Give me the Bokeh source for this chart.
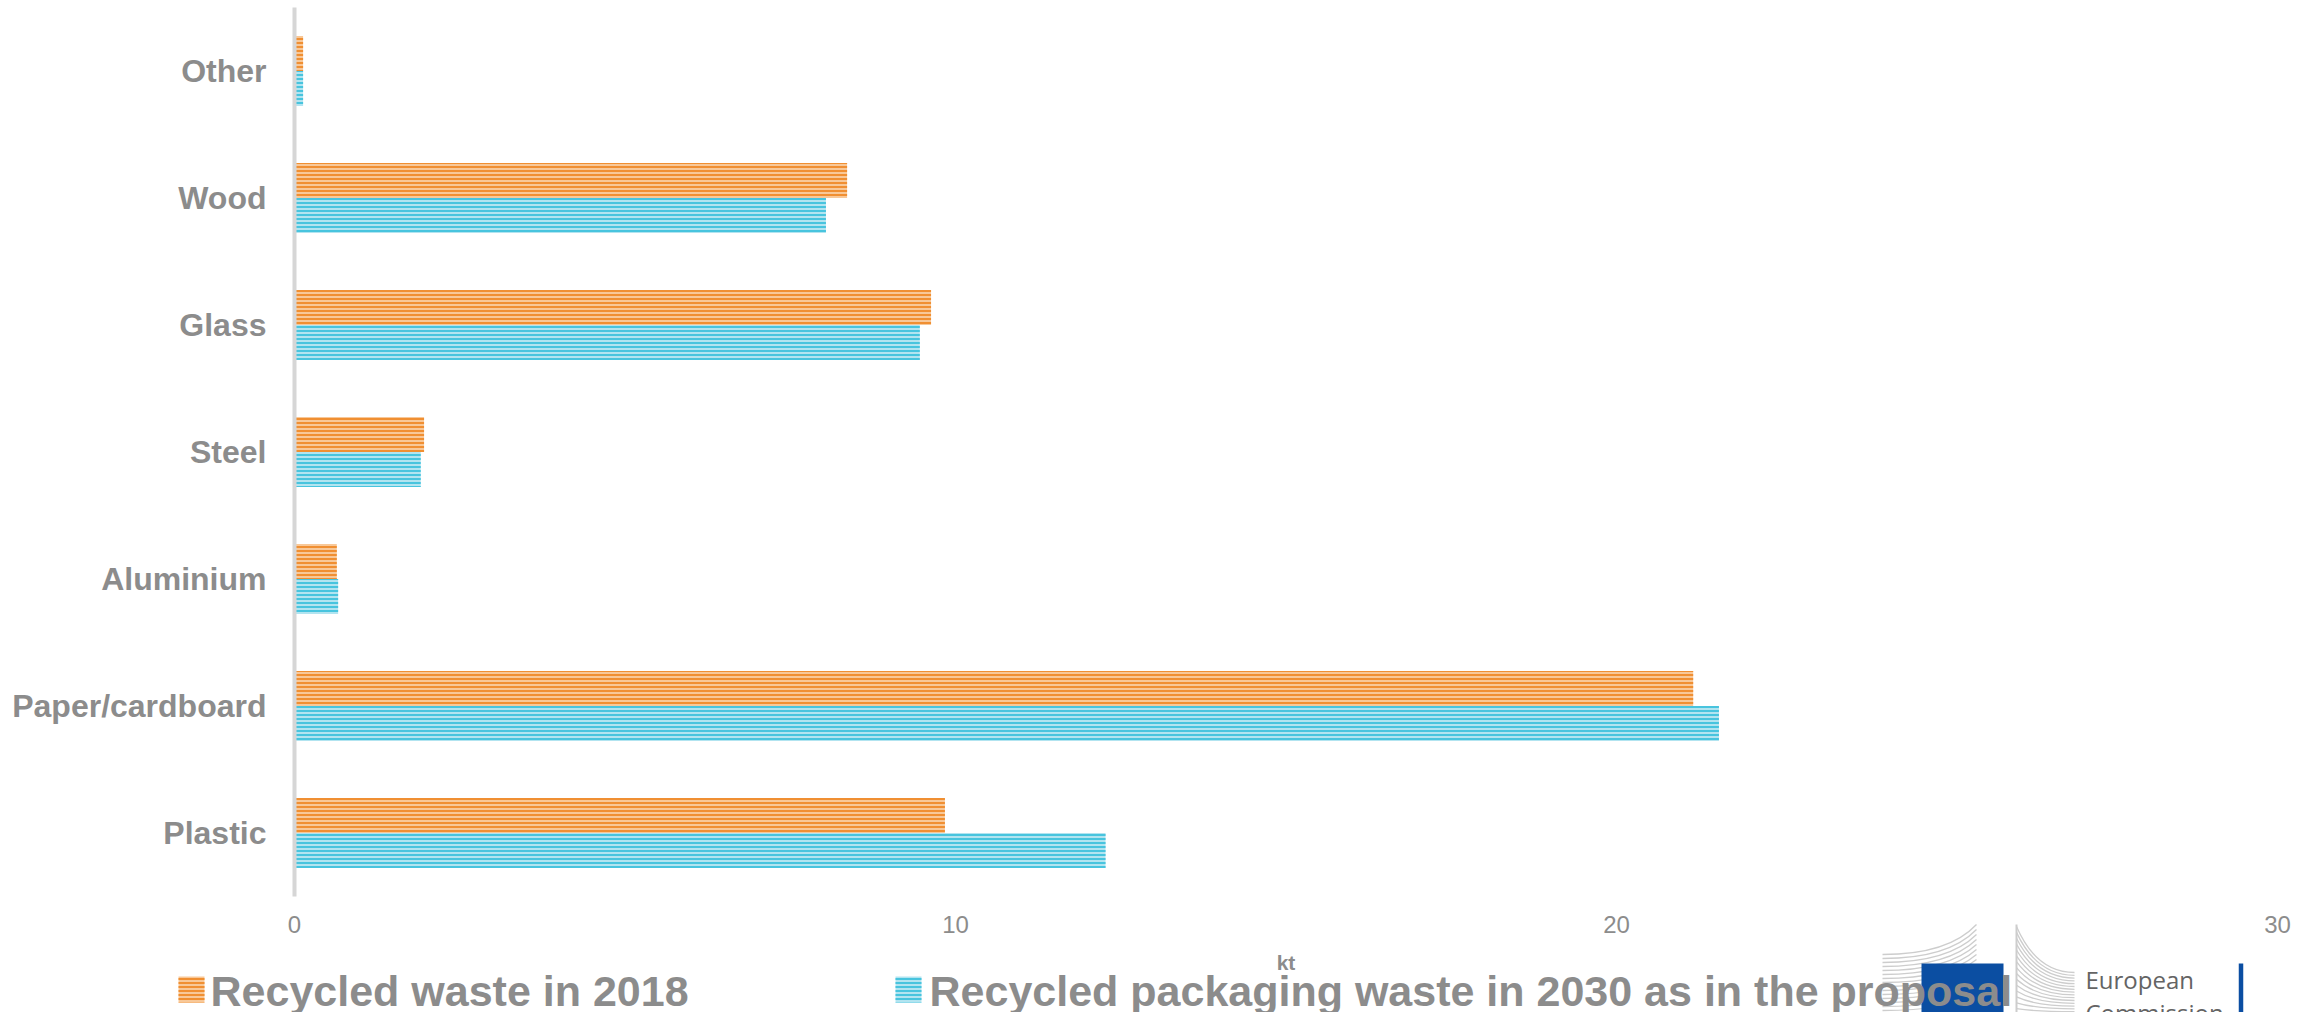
import numpy as np
from bokeh.plotting import figure
from bokeh.models import Range1d, FixedTicker, ColumnDataSource
from bokeh.core.properties import value
from bokeh.embed import file_html
from bokeh.resources import INLINE

# ---------------- data ----------------
categories = ["Plastic", "Paper/cardboard", "Aluminium", "Steel", "Glass", "Wood", "Other"]
recycled_2018 = [9.84, 21.16, 0.64, 1.96, 9.63, 8.36, 0.13]
recycled_2030 = [12.27, 21.55, 0.66, 1.91, 9.46, 8.04, 0.13]
x_ticks = [0, 10, 20, 30]
series_names = ["Recycled waste in 2018",
                "Recycled packaging waste in 2030 as in the proposal"]
axis_title = "kt"
logo_lines = ["European", "Commission"]

# ---------------- style ----------------
ORANGE_DARK, ORANGE_LIGHT = "#F08F32", "#F8C898"
CYAN_DARK, CYAN_LIGHT = "#48C4DE", "#B2E4F0"
GREY = "#8C8C8C"
FONT = "Liberation Sans"

W, H = 2306, 1012
L, R, T, B = 294, 29, 7, 116
FRAME_W, FRAME_H = W - L - R, H - T - B

ncat = len(categories)
pos = [i + 0.5 for i in range(ncat)]          # category slots on the y axis

p = figure(width=W, height=H,
           x_range=Range1d(0, 30),
           y_range=Range1d(0, ncat),
           output_backend="svg", toolbar_location=None,
           min_border_left=L, min_border_right=R,
           min_border_top=T, min_border_bottom=B)
p.outline_line_color = None
p.xgrid.visible = False
p.ygrid.visible = False
p.background_fill_color = "white"
p.border_fill_color = "white"

# pixel-like coordinate system for the legend and logo (drawn outside the frame)
p.extra_x_ranges = {"px": Range1d(L, L + FRAME_W)}
p.extra_y_ranges = {"px": Range1d(T + FRAME_H, T)}

# ---------------- bars ----------------
BH = 0.275
src = ColumnDataSource(dict(y_a=[v + BH / 2 for v in pos], y_b=[v - BH / 2 for v in pos],
                            a=recycled_2018, b=recycled_2030))
hatch = dict(hatch_pattern="horizontal_line", hatch_weight=2, hatch_scale=4, line_color=None)
p.hbar(y="y_a", left=0, right="a", height=BH, source=src,
       fill_color=ORANGE_LIGHT, hatch_color=ORANGE_DARK, **hatch)
p.hbar(y="y_b", left=0, right="b", height=BH, source=src,
       fill_color=CYAN_LIGHT, hatch_color=CYAN_DARK, **hatch)

# ---------------- axes ----------------
xa = p.xaxis[0]
xa.ticker = FixedTicker(ticks=x_ticks)
xa.axis_line_color = None
xa.major_tick_line_color = None
xa.minor_tick_line_color = None
xa.major_label_text_font = FONT
xa.major_label_text_font_size = "24px"
xa.major_label_text_color = GREY
xa.major_label_standoff = 13
xa.axis_label = axis_title
xa.axis_label_text_font = FONT
xa.axis_label_text_font_style = "bold"
xa.axis_label_text_font_size = "21px"
xa.axis_label_text_color = GREY
xa.axis_label_standoff = 15

ya = p.yaxis[0]
ya.ticker = FixedTicker(ticks=pos)
ya.major_label_overrides = {v: c for v, c in zip(pos, categories)}
ya.axis_line_color = "#D6D6D6"
ya.axis_line_width = 4
ya.major_tick_line_color = None
ya.minor_tick_line_color = None
ya.major_label_text_font = FONT
ya.major_label_text_font_style = "bold"
ya.major_label_text_font_size = "32px"
ya.major_label_text_color = GREY
ya.major_label_standoff = 22

px = dict(x_range_name="px", y_range_name="px", level="annotation")

# ---------------- logo (decoration) ----------------
n = 16
t = np.linspace(0, 1, n)
# left building
y0 = 954 + t * 60
y1 = 924 + t * 75
p.quadratic(x0=[1882] * n, y0=y0, x1=[1976] * n, y1=y1, cx=[1948] * n, cy=y0,
            line_color="#CDCDCD", line_width=1.3, **px)
# right building
ry0 = 926 + t * 88
ry1 = 972 + t * 42
p.quadratic(x0=[2016] * n, y0=ry0, x1=[2074] * n, y1=ry1, cx=[2036] * n, cy=ry1,
            line_color="#CDCDCD", line_width=1.3, **px)
p.segment(x0=[2016], y0=[924], x1=[2016], y1=[1018], line_color="#CDCDCD", line_width=2, **px)
# flag
p.quad(left=[1921], right=[2003], top=[963], bottom=[1020], fill_color="#0B4EA2",
       line_color=None, **px)
ang = np.linspace(0, 2 * np.pi, 12, endpoint=False)
p.scatter(x=1962 + 17 * np.cos(ang), y=989 + 17 * np.sin(ang), marker="star", size=9,
          fill_color="#FFED00", line_color=None, **px)
# blue rule
p.segment(x0=[2240.5], y0=[963], x1=[2240.5], y1=[1020], line_color="#0B4EA2",
          line_width=4.5, **px)

# ---------------- legend ----------------
p.quad(left=[178], right=[204], top=[976], bottom=[1002], fill_color=ORANGE_LIGHT,
       hatch_color=ORANGE_DARK, **hatch, **px)
p.quad(left=[895], right=[921], top=[976], bottom=[1002], fill_color=CYAN_LIGHT,
       hatch_color=CYAN_DARK, **hatch, **px)
p.text(x=[210, 929], y=[990, 990], text=series_names, text_font=value(FONT),
       text_font_style="bold", text_font_size="43px", text_color=GREY,
       text_align="left", text_baseline="alphabetic", **px)

# logo text
p.text(x=[2085, 2085], y=[979, 1012], text=logo_lines, text_font=value("Open Sans"),
       text_font_size="24px", text_color="#646464", text_align="left",
       text_baseline="alphabetic", **px)

open("out.html", "w").write(file_html(p, INLINE))
